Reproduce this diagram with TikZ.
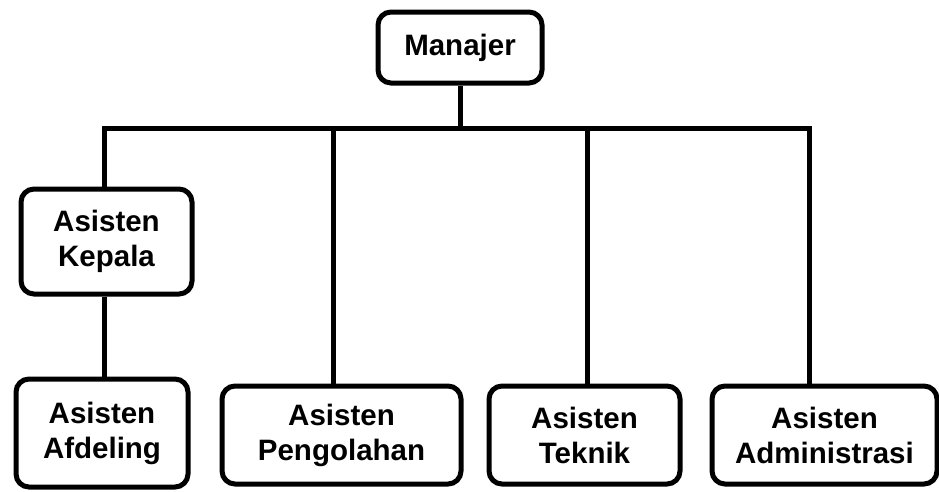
\documentclass[tikz,border=0pt]{standalone}
\usepackage{fontspec}
\setmainfont{Liberation Sans}
\begin{document}
\begin{tikzpicture}[x=1pt,y=-1pt,
  orgbox/.style={draw=black, line width=5pt, rounded corners=13pt, fill=white,
    align=center, inner sep=0pt, font=\bfseries\fontsize{29.5}{35}\selectfont},
  conn/.style={draw=black, line width=5pt, line join=miter}]
\useasboundingbox (0,0) rectangle (939,491);
\node[orgbox, minimum width=164pt, minimum height=71pt] (man) at (460,47.5) {Manajer};
\node[orgbox, minimum width=171pt, minimum height=105pt] (kep) at (106.5,241.5) {Asisten\\Kepala};
\node[orgbox, minimum width=172pt, minimum height=108pt] (afd) at (102,433) {Asisten\\Afdeling};
\node[orgbox, minimum width=239pt, minimum height=98pt] (pen) at (341.5,435) {Asisten\\Pengolahan};
\node[orgbox, minimum width=191pt, minimum height=98pt] (tek) at (584.5,435) {Asisten\\Teknik};
\node[orgbox, minimum width=225pt, minimum height=98pt] (adm) at (824.5,435) {Asisten\\Administrasi};
\coordinate (j) at (460,128);
\coordinate (bl) at (104,128);
\coordinate (br) at (809,128);
\coordinate (jp) at (333,128);
\coordinate (jt) at (587,128);
\draw[conn] (man.south) -- (j);
\draw[conn] (bl |- kep.north) -- (bl) -- (br) -- (br |- adm.north);
\draw[conn] (bl |- kep.south) -- (bl |- afd.north);
\draw[conn] (jp) -- (jp |- pen.north);
\draw[conn] (jt) -- (jt |- tek.north);
\end{tikzpicture}
\end{document}
